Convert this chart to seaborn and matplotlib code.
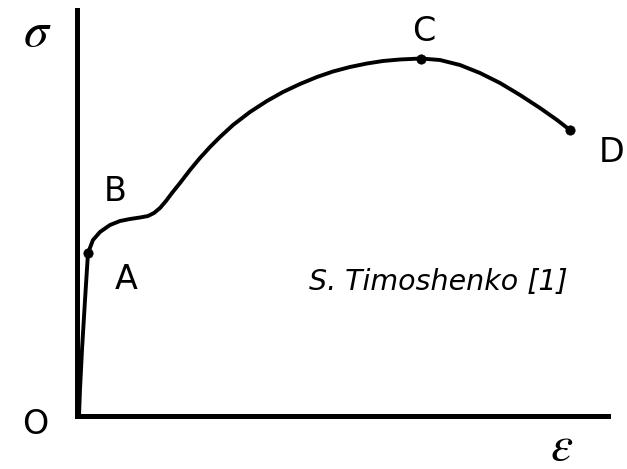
import matplotlib
matplotlib.use("Agg")
import matplotlib.pyplot as plt
import seaborn as sns
import pandas as pd

# stress-strain curve (arbitrary units, 0..100 on each axis)
strain = [0.38, 0.56, 0.94, 1.51, 2.07, 3.01, 4.33, 6.21, 8.10, 9.98, 11.86, 13.37,
          14.50, 15.63, 16.76, 17.89, 19.40, 21.28, 23.16, 25.05, 26.93, 29.38, 32.58,
          35.78, 38.79, 41.99, 45.20, 48.21, 51.41, 54.61, 57.63, 60.83, 64.78, 68.36,
          72.13, 75.89, 79.66, 83.43, 87.19, 90.40, 92.84]
stress = [0.0, 6.40, 16.26, 28.57, 40.15, 43.35, 45.32, 47.04, 48.03, 48.52, 48.89, 49.26,
          50.00, 51.23, 52.96, 54.93, 57.39, 60.59, 63.55, 66.26, 68.72, 71.67, 74.88,
          77.59, 79.80, 81.77, 83.50, 84.85, 85.96, 86.82, 87.44, 87.81, 88.05, 87.68,
          86.45, 84.48, 82.02, 79.06, 75.86, 72.91, 70.44]

# marked points on the curve
point_names = ["A", "C", "D"]
point_strain = [2.07, 64.78, 92.84]
point_stress = [40.15, 88.05, 70.44]

df = pd.DataFrame({"strain": strain, "stress": stress})
pts = pd.DataFrame({"strain": point_strain, "stress": point_stress})

sns.set_style("white")
plt.rcParams["font.family"] = ["DejaVu Sans"]
plt.rcParams["mathtext.fontset"] = "stix"
plt.rcParams["text.color"] = "black"

fig = plt.figure(figsize=(6.27, 4.69), dpi=100)
ax = fig.add_axes([0.1228, 0.1130, 0.8469, 0.8657])

sns.lineplot(data=df, x="strain", y="stress", sort=False, color="black",
             linewidth=2.8, solid_joinstyle="round", solid_capstyle="round", ax=ax)
sns.scatterplot(data=pts, x="strain", y="stress", color="black", s=45,
                edgecolor="black", zorder=5, ax=ax, clip_on=False)

ax.set_xlim(0, 100)
ax.set_ylim(0, 100)
ax.set_xticks([])
ax.set_yticks([])
ax.set_xlabel("")
ax.set_ylabel("")
for side in ["top", "right"]:
    ax.spines[side].set_visible(False)
for side in ["left", "bottom"]:
    ax.spines[side].set_linewidth(3.6)
    ax.spines[side].set_color("black")

# point labels
ax.text(7.16, 55.2, "B", fontsize=24, ha="center", va="center")
ax.text(9.23, 33.5, "A", fontsize=24, ha="center", va="center")
ax.text(65.3, 94.6, "C", fontsize=24, ha="center", va="center")
ax.text(100.6, 65.0, "D", fontsize=24, ha="center", va="center")
ax.text(-7.9, -2.2, "O", fontsize=24, ha="center", va="center")

# axis symbols
ax.text(-7.5, 94.6, r"$\sigma$", fontsize=36, ha="center", va="center")
ax.text(91.3, -7.4, r"$\varepsilon$", fontsize=36, ha="center", va="center")

ax.text(68.0, 33.0, "S. Timoshenko [1]", fontsize=20.5, style="italic",
        ha="center", va="center")

fig.savefig("out.png", dpi=100)
